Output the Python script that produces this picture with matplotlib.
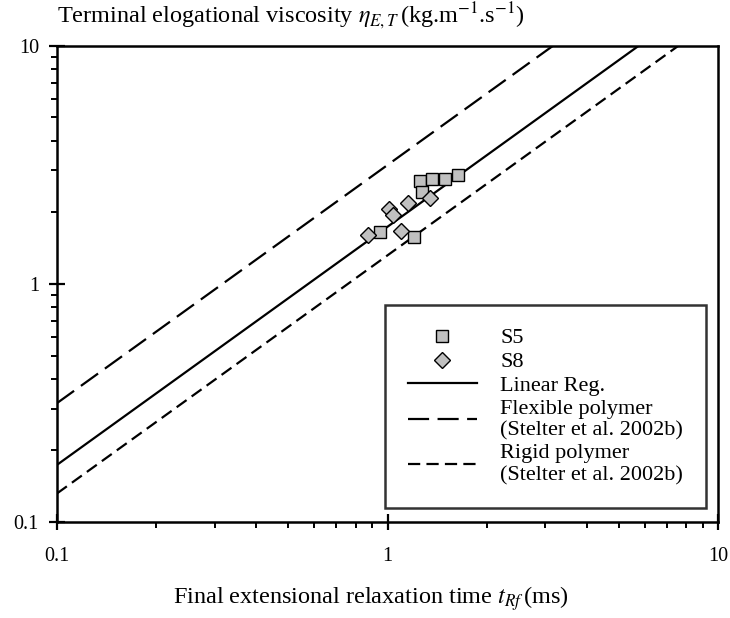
import numpy as np
import matplotlib
matplotlib.use('Agg')
import matplotlib.pyplot as plt

plt.rcParams['font.family'] = ['Liberation Serif', 'DejaVu Serif']
plt.rcParams['mathtext.fontset'] = 'stix'

# Data
s5_t = [1.25, 1.36, 1.49, 1.63, 1.27, 0.95, 1.20]
s5_eta = [2.71, 2.75, 2.76, 2.86, 2.44, 1.66, 1.58]
s8_t = [0.87, 1.01, 1.04, 1.15, 1.34, 1.10]
s8_eta = [1.61, 2.06, 1.95, 2.18, 2.29, 1.67]

# eta = a * t (slope 1 in log-log)
coef_linreg = 1.74
coef_flexible = 3.16
coef_rigid = 1.32

t_line = np.array([0.1, 10.0])

fig = plt.figure(figsize=(7.30, 6.18), dpi=100)
ax = fig.add_axes([0.078, 0.155, 0.906, 0.771])

ax.plot(s5_t, s5_eta, 's', ms=9.2, mfc='#c0c0c0', mec='black', mew=1.0,
        label='S5', zorder=4)
ax.plot(s8_t, s8_eta, 'D', ms=8.5, mfc='#c0c0c0', mec='black', mew=1.0,
        label='S8', zorder=5)
ax.plot(t_line, coef_linreg * t_line, color='black', lw=1.6, label='Linear Reg.')
ax.plot(t_line, coef_flexible * t_line, color='black', lw=1.6,
        dashes=(9.5, 3.8), label='Flexible polymer\n(Stelter et al. 2002b)')
ax.plot(t_line, coef_rigid * t_line, color='black', lw=1.6,
        dashes=(5.5, 2.8), label='Rigid polymer\n(Stelter et al. 2002b)')

ax.set_xscale('log')
ax.set_yscale('log')
ax.set_xlim(0.1, 10)
ax.set_ylim(0.1, 10)
ax.set_xticks([0.1, 1, 10])
ax.set_xticklabels(['0.1', '1', '10'])
ax.set_yticks([0.1, 1, 10])
ax.set_yticklabels(['0.1', '1', '10'])

for sp in ax.spines.values():
    sp.set_linewidth(1.8)

ax.tick_params(which='major', direction='inout', length=12, width=1.6,
               labelsize=14.5, top=False, right=False)
ax.tick_params(axis='x', which='major', pad=12)
ax.tick_params(axis='y', which='major', pad=7)
ax.tick_params(which='minor', direction='out', length=4, width=1.4,
               top=False, right=False)

ax.set_xlabel(r'Final extensional relaxation time $t_{Rf}\,$(ms)', fontsize=17.5)
ax.xaxis.set_label_coords(0.474, -0.13)
ax.text(0.0, 1.03, r'Terminal elogational viscosity $\eta_{E,T}\,$(kg.m$^{\mathrm{-1}}$.s$^{\mathrm{-1}}$)',
        transform=ax.transAxes, fontsize=17.5, ha='left', va='bottom')

leg = ax.legend(loc='lower right', bbox_to_anchor=(0.982, 0.029), fontsize=16,
                frameon=True, fancybox=False, edgecolor='black', handlelength=3.1,
                handletextpad=1.05, labelspacing=0.15, borderpad=1.05,
                borderaxespad=0.0)
leg.get_frame().set_linewidth(1.8)

fig.savefig('out.png', dpi=100)
